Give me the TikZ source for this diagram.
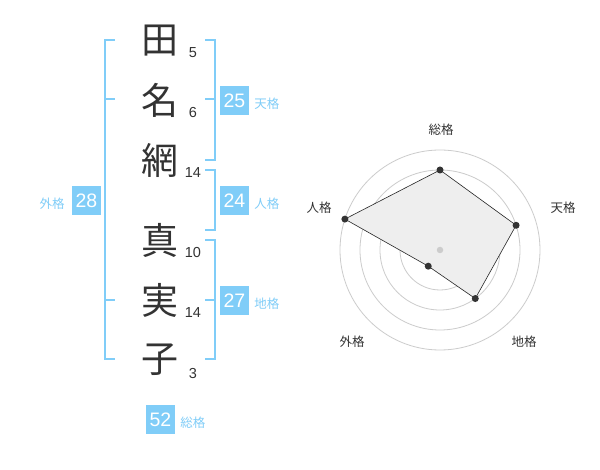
\documentclass[tikz,border=0pt]{standalone}
\usepackage{fontspec}
\setmainfont{Liberation Sans}
\newfontfamily\jpfont{Noto Sans CJK JP}
\usetikzlibrary{calc,positioning}
\definecolor{seimei}{RGB}{128,205,248}
\definecolor{ink}{RGB}{51,51,51}
\definecolor{ring}{RGB}{204,204,204}
\definecolor{area}{RGB}{238,238,238}
\tikzset{
  kanji/.style={font=\jpfont\fontsize{37}{37}\selectfont,text=ink,inner sep=0pt},
  strokes/.style={font=\fontsize{14.5}{15}\selectfont,text=ink,inner sep=0pt,anchor=base},
  score/.style={fill=seimei,text=white,font=\fontsize{19.5}{20}\selectfont,
                minimum size=29pt,inner sep=0pt},
  tag/.style={font=\jpfont\fontsize{12.5}{13}\selectfont,text=seimei,inner sep=0pt},
  bracket/.style={draw=seimei,line width=2pt},
  axis/.style={font=\jpfont\fontsize{12.5}{13}\selectfont,text=ink,inner sep=0pt},
  vertex/.style={circle,fill=ink,inner sep=0pt,minimum size=7pt},
}
\begin{document}
\begin{tikzpicture}[x=1pt,y=-1pt]
\useasboundingbox[fill=white] (0,0) rectangle (600,470);
%
% name, one character per row
  \node[kanji] (k1) at (160,41) {田};
  \node[kanji] (k2) at (160,100) {名};
  \node[kanji] (k3) at (160,160) {網};
  \node[kanji] (k4) at (160,240) {真};
  \node[kanji] (k5) at (160,300) {実};
  \node[kanji] (k6) at (160,360) {子};
%
  \node[strokes] (n1) at (193,58) {5};
  \node[strokes] (n2) at (193,118) {6};
  \node[strokes] (n3) at (193,178) {14};
  \node[strokes] (n4) at (193,258) {10};
  \node[strokes] (n5) at (193,318) {14};
  \node[strokes] (n6) at (193,378) {3};
%
% brackets
  \draw[bracket] (115,40) -- (105,40) -- (105,359) -- (115,359);
  \draw[bracket] (105,99) -- (115,99) (105,300) -- (115,300);
  \draw[bracket] (205,40) -- (215,40) -- (215,160) -- (205,160);
  \draw[bracket] (205,99) -- (215,99);
  \draw[bracket] (205,170) -- (215,170) -- (215,230) -- (205,230);
  \draw[bracket] (205,240) -- (215,240) -- (215,359) -- (205,359);
  \draw[bracket] (205,300) -- (215,300);
%
% scores
  \node[score] (ten) at (234.5,100.5) {25};
  \node[score] (jin) at (234.5,200.5) {24};
  \node[score] (chi) at (234.5,300.5) {27};
  \node[score] (gai) at (86.5,200.5) {28};
  \node[score] (sou) at (160.5,419.5) {52};
  \node[tag,right=5pt of ten,yshift=-3pt] (ten-t) {天格};
  \node[tag,right=5pt of jin,yshift=-3pt] (jin-t) {人格};
  \node[tag,right=5pt of chi,yshift=-3pt] (chi-t) {地格};
  \node[tag,left=7pt of gai,yshift=-3pt] (gai-t) {外格};
  \node[tag,right=5pt of sou,yshift=-3pt] (sou-t) {総格};
%
% radar chart
  \coordinate (c) at (440,250);
  \draw[ring,line width=0.8pt] (c) circle[radius=20] (c) circle[radius=40] (c) circle[radius=60]
              (c) circle[radius=80] (c) circle[radius=100];
  \coordinate (v1) at ($(c)+(-90:80)$);
  \coordinate (v2) at ($(c)+(-18:80)$);
  \coordinate (v3) at ($(c)+(54:60)$);
  \coordinate (v4) at ($(c)+(126:20)$);
  \coordinate (v5) at ($(c)+(198:100)$);
  \draw[fill=area,draw=black!85,line width=0.6pt] (v1) -- (v2) -- (v3) -- (v4) -- (v5) -- cycle;
  \node[circle,fill=ring,inner sep=0pt,minimum size=6.5pt] (c0) at (c) {};
  \node[vertex] (d1) at (v1) {};
  \node[vertex] (d2) at (v2) {};
  \node[vertex] (d3) at (v3) {};
  \node[vertex] (d4) at (v4) {};
  \node[vertex] (d5) at (v5) {};
%
  \node[axis] (a1) at (441,130) {総格};
  \node[axis] (a2) at (563,208) {天格};
  \node[axis] (a3) at (524,342) {地格};
  \node[axis] (a4) at (352,342) {外格};
  \node[axis] (a5) at (319,208) {人格};
\end{tikzpicture}
\end{document}
